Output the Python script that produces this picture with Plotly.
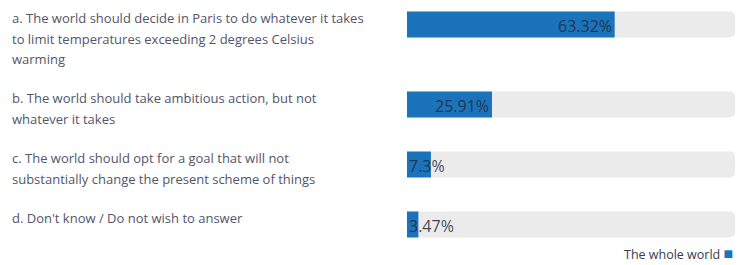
import plotly.graph_objects as go

# ---- data ----
labels = [
    "a. The world should decide in Paris to do whatever it takes<br>to limit temperatures exceeding 2 degrees Celsius<br>warming",
    "b. The world should take ambitious action, but not<br>whatever it takes",
    "c. The world should opt for a goal that will not<br>substantially change the present scheme of things",
    "d. Don't know / Do not wish to answer",
]
values = [63.32, 25.91, 7.3, 3.47]
value_text = ["63.32%", "25.91%", "7.3%", "3.47%"]
series_name = "The whole world"
track_max = [100, 100, 100, 100]

# ---- layout helpers (pixel-like vertical units) ----
W, H = 743, 265
LINE_H = 20.5
first_center = 24.5
centers = []
c = first_center
for lab in labels:
    centers.append(c)
    n = lab.count("<br>") + 1
    c += n * 20 + 20

BLUE = "#1b74bb"
TRACK = "#ebebeb"
TEXT = "#54546a"
FONT = "Open Sans"

fig = go.Figure()
fig.add_trace(go.Bar(
    x=track_max, y=centers, orientation="h", width=26,
    marker=dict(color=TRACK, cornerradius=5, line=dict(width=0)),
    showlegend=False, hoverinfo="skip",
))
fig.add_trace(go.Bar(
    x=values, y=centers, orientation="h", width=26,
    marker=dict(color=BLUE, cornerradius=5, line=dict(width=0)),
    name=series_name, showlegend=False,
))

annotations = []
for lab, yc, v, t in zip(labels, centers, values, value_text):
    for k, line in enumerate(lab.split("<br>")):
        annotations.append(dict(
            x=10 / W, xref="paper", y=yc - 6.5 + k * LINE_H, yref="y",
            text=line, showarrow=False, xanchor="left", yanchor="middle",
            font=dict(family=FONT, size=13, color=TEXT),
        ))
    if v >= 15:
        ax, anchor, shift = v, "right", -1
    else:
        ax, anchor, shift = 0, "left", 0
    annotations.append(dict(
        x=ax, xref="x", y=yc + 1, yref="y", text=t, showarrow=False,
        xanchor=anchor, yanchor="middle", xshift=shift,
        font=dict(family=FONT, size=16, color="rgba(35,40,55,0.85)"),
    ))

# legend-like key: series name followed by a coloured square
annotations.append(dict(
    x=1 - 8 / W, xref="paper", y=253, yref="y",
    text=f"{series_name} <span style='color:{BLUE};font-size:16px'>■</span>",
    showarrow=False, xanchor="right", yanchor="middle",
    font=dict(family=FONT, size=12.5, color="#3a3a4e"),
))

fig.update_layout(
    width=W, height=H,
    margin=dict(l=0, r=0, t=0, b=0, autoexpand=False),
    paper_bgcolor="white", plot_bgcolor="white",
    barmode="overlay",
    xaxis=dict(domain=[407 / W, 735 / W], range=[0, 100], visible=False, fixedrange=True),
    yaxis=dict(range=[H, 0], visible=False, fixedrange=True),
    annotations=annotations,
    showlegend=False,
)

fig.write_html(
    "out.html",
    config={"displayModeBar": False},
    post_script="document.body.style.margin='0';document.body.style.overflow='hidden';",
)
